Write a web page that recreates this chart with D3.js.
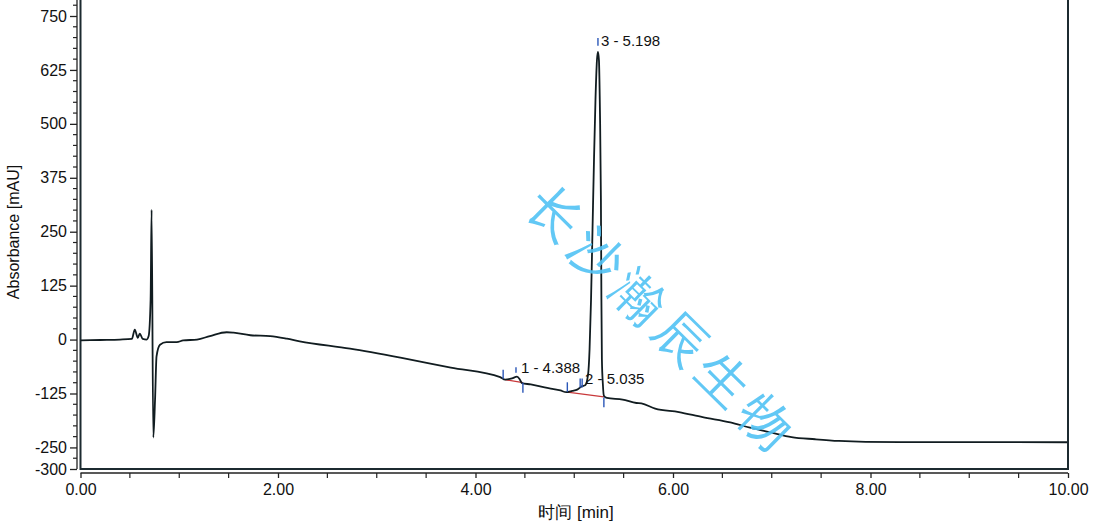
<!DOCTYPE html>
<html><head><meta charset="utf-8">
<script src="https://cdn.jsdelivr.net/npm/d3@7"></script>
<style>
html,body{margin:0;padding:0;background:#fff;}
svg{display:block;}
text{font-family:"Liberation Sans",Arial,sans-serif;}
</style></head>
<body>
<svg id="c" width="1093" height="524"></svg>
<script>
// ---- data ----
const timeMin = [0,0.20,0.40,0.52,0.55,0.58,0.60,0.63,0.67,0.69,0.71,0.72,0.737,0.755,0.77,0.805,0.87,0.975,1.04,1.18,1.31,1.48,1.55,1.72,1.92,2.09,2.22,2.73,3.24,3.75,4.25,4.30,4.37,4.42,4.45,4.47,4.56,4.70,4.86,4.92,4.98,5.03,5.08,5.11,5.14,5.155,5.17,5.185,5.20,5.215,5.23,5.24,5.25,5.26,5.27,5.275,5.28,5.29,5.30,5.33,5.49,5.63,5.68,5.82,6.06,6.30,6.58,6.78,6.99,7.20,7.44,7.68,7.95,8.30,8.99,9.99];
const absorbance = [-2,-1,0,1.6,23,4,14,1.6,0,8,93,301,-227,-139,-39,-12,-6,-6,-2,0,8,17,16,10,8,2,-4,-21,-42,-65,-87,-93,-90,-86,-93,-101,-104,-111,-118,-122,-119,-116,-108,-106,-81,-23,93,255,417,556,648,667,648,532,324,93,-46,-104,-130,-135,-139,-147,-148,-160,-168,-180,-192,-204,-215,-226,-231,-235,-237,-237.5,-237.5,-238];

const peakLabels = ["1 - 4.388","2 - 5.035","3 - 5.198"];
const labelT = [4.46,5.11,5.27];
const labelV = [-77,-104,680];

const markT  = [4.28,4.41,4.48,4.93,5.06,5.08,5.30,5.24];
const markV1 = [-70,-64,-100,-99,-90,-90,-134,699];
const markV2 = [-91,-77,-123,-121,-111,-111,-157,681];

const baseT1 = [4.30,4.93];
const baseV1 = [-93,-122];
const baseT2 = [4.48,5.30];
const baseV2 = [-100,-133];

const yMajor = [-300,-250,-125,0,125,250,375,500,625,750];
const xMajor = [0,2,4,6,8,10];

const watermark = "长沙瀚辰生物";
const xTitle = "时间 [min]";
const yTitle = "Absorbance [mAU]";

// ---- drawing ----
const svg = d3.select("#c");
const x = d3.scaleLinear().domain([0,10]).range([80.5,1068]);
const y = d3.scaleLinear().domain([-300,750]).range([469,16]);

// frame
svg.append("path")
  .attr("d",`M${x(0)},0V${y(-300)}H${x(10)}V0`)
  .attr("fill","none").attr("stroke","#1c2a30").attr("stroke-width",2);

// y axis
const yMinor = d3.range(-300,776,25).filter(v=>!yMajor.includes(v));
const ya = svg.append("g").attr("transform","translate(77,0)");
ya.call(d3.axisLeft(y).tickValues(yMajor).tickSize(7).tickPadding(3).tickFormat(d=>String(d)));
ya.selectAll(".tick text").attr("font-size",16).attr("fill","#111").attr("font-family","'Liberation Sans',Arial,sans-serif");
ya.selectAll("line,path").attr("stroke","#222").attr("stroke-width",1.3);
ya.select(".domain").attr("d",`M0,${y(-300)}V0`);
ya.selectAll(".minor").data(yMinor).enter().append("line").attr("class","minor")
  .attr("x1",-4).attr("x2",0).attr("y1",d=>y(d)).attr("y2",d=>y(d))
  .attr("stroke","#222").attr("stroke-width",1.2);

// x axis
const xa = svg.append("g").attr("transform","translate(0,473)");
xa.call(d3.axisBottom(x).tickValues(xMajor).tickSize(5).tickPadding(6).tickFormat(d3.format(".2f")));
xa.selectAll(".tick text").attr("font-size",16).attr("fill","#111").attr("font-family","'Liberation Sans',Arial,sans-serif");
xa.selectAll("line,path").attr("stroke","#222").attr("stroke-width",1.3);
xa.select(".domain").attr("d",`M${x(0)},0H${x(10)}`);
xa.selectAll(".minor").data(d3.range(0,10.01,0.5).filter(v=>v%2!==0)).enter().append("line").attr("class","minor")
  .attr("x1",d=>x(d)).attr("x2",d=>x(d)).attr("y1",0).attr("y2",5)
  .attr("stroke","#222").attr("stroke-width",1.2);

// titles
svg.append("text").attr("transform","translate(19,232) rotate(-90)")
  .attr("text-anchor","middle").attr("font-size",16).attr("fill","#111").text(yTitle);
svg.append("text").attr("x",576).attr("y",518)
  .attr("text-anchor","middle").attr("font-size",17).attr("fill","#111")
  .attr("font-family","'Liberation Sans','Noto Sans CJK SC',sans-serif").text(xTitle);

// baseline segments (red)
svg.selectAll(".base").data(baseT1).enter().append("line")
  .attr("x1",(d,i)=>x(baseT1[i])).attr("y1",(d,i)=>y(baseV1[i]))
  .attr("x2",(d,i)=>x(baseT2[i])).attr("y2",(d,i)=>y(baseV2[i]))
  .attr("stroke","#c8383a").attr("stroke-width",1.3);

// trace
const pts = timeMin.map((t,i)=>[t,absorbance[i]]);
svg.append("path").datum(pts)
  .attr("d",d3.line().x(d=>x(d[0])).y(d=>y(d[1])).curve(d3.curveMonotoneX))
  .attr("fill","none").attr("stroke","#111c20").attr("stroke-width",1.8)
  .attr("stroke-linejoin","round");

// peak markers
svg.selectAll(".mk").data(markT).enter().append("line")
  .attr("x1",d=>x(d)).attr("x2",d=>x(d))
  .attr("y1",(d,i)=>y(markV1[i])).attr("y2",(d,i)=>y(markV2[i]))
  .attr("stroke","#2b57b8").attr("stroke-width",1.4);

// peak labels
svg.selectAll(".pl").data(peakLabels).enter().append("text")
  .attr("x",(d,i)=>x(labelT[i])).attr("y",(d,i)=>y(labelV[i]))
  .attr("font-size",15).attr("fill","#111").text(d=>d);

// watermark
svg.append("text")
  .attr("transform",`translate(${x(5.9)},${y(45)}) rotate(44.6)`)
  .attr("text-anchor","middle").attr("dominant-baseline","central")
  .attr("font-family","'Noto Sans CJK SC',sans-serif").attr("font-weight",300)
  .attr("font-size",52).attr("letter-spacing",7)
  .attr("fill","#52c3f5").attr("opacity",0.9).text(watermark);
</script>
</body></html>
